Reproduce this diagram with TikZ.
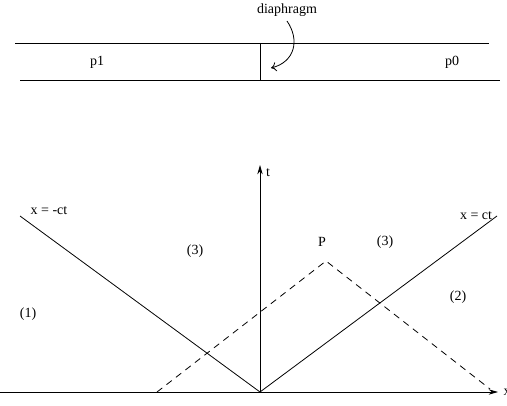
\documentclass[tikz,border=0pt]{standalone}
\usepackage{fontspec}
\setmainfont{Liberation Serif}
\usetikzlibrary{arrows.meta}
\begin{document}
\begin{tikzpicture}[x=0.75pt,y=-0.75pt,
  lbl/.style={font=\fontsize{10.5pt}{12pt}\selectfont, inner sep=1pt},
  ln/.style={line width=0.6pt},
  dsh/.style={line width=0.6pt, dash pattern=on 5pt off 4pt},
  arr/.style={ln,-{Stealth[length=7pt,width=4pt]}}]
\useasboundingbox (0,0) rectangle (507,406);
% tube
\coordinate (tl) at (15,43); \coordinate (tr) at (489,43);
\coordinate (bl) at (20,80); \coordinate (br) at (500,80);
\coordinate (dt) at (260,43); \coordinate (db) at (260,80);
\draw[ln] (tl) -- (tr);
\draw[ln] (bl) -- (br);
\draw[ln] (dt) -- (db);
\node[lbl] (p1) at (97,62) {p1};
\node[lbl] (p0) at (452,62) {p0};
\node[lbl] (dia) at (287,10) {diaphragm};
\coordinate (cs) at (287,21);
\coordinate (ce) at (271,68);
\draw[ln,-{To[length=4pt,width=7pt]}] (cs) .. controls (300,40) and (295,62) .. (ce);
% diagram
\coordinate (O) at (260,392);
\coordinate (xl) at (0,392);
\coordinate (xr) at (498,392);
\coordinate (ttop) at (260,165);
\coordinate (L) at (20,216);
\coordinate (R) at (497,216);
\coordinate (d1) at (157,392);
\coordinate (P) at (326,261);
\coordinate (d2) at (490,389);
\draw[arr] (xl) -- (xr);
\draw[arr] (O) -- (ttop);
\draw[ln] (O) -- (L);
\draw[ln] (O) -- (R);
\draw[dsh] (d1) -- (P) -- (d2);
\node[lbl] (xlab) at (507,392) {x};
\node[lbl] (tlab) at (268,173) {t};
\node[lbl] (lm) at (49,211) {x = -ct};
\node[lbl] (lp) at (476,216) {x = ct};
\node[lbl] (Plab) at (322,242) {P};
\node[lbl] (r3a) at (195,251) {(3)};
\node[lbl] (r3b) at (385,242) {(3)};
\node[lbl] (r1) at (28,314) {(1)};
\node[lbl] (r2) at (458,297) {(2)};
\end{tikzpicture}
\end{document}
